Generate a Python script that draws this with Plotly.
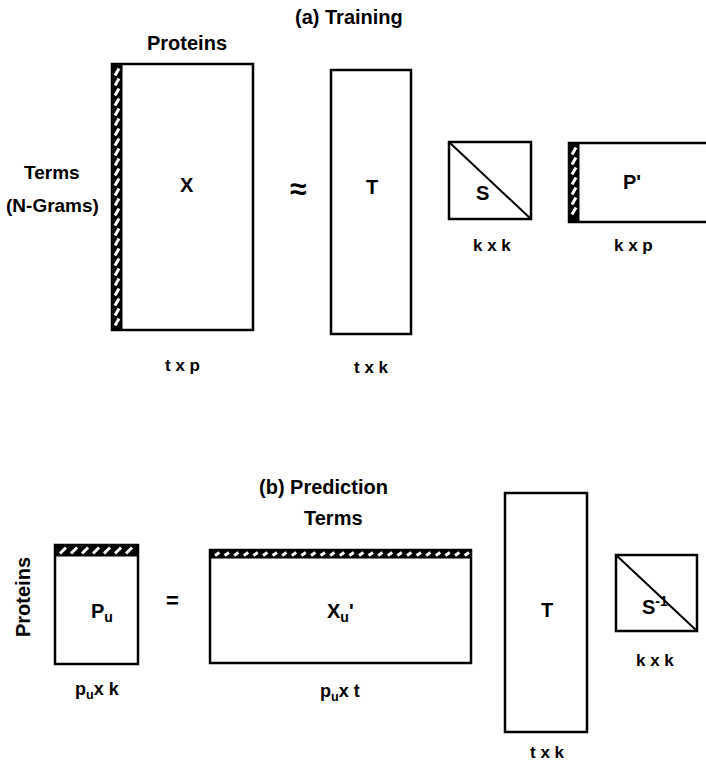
import plotly.graph_objects as go

W, H = 706, 769

# Matrix factorisation diagram: names, dimension captions and panel titles
panel_titles = ["(a) Training", "(b) Prediction"]
matrix_names_a = ["X", "T", "S", "P'"]
matrix_dims_a = ["t x p", "t x k", "k x k", "k x p"]
matrix_names_b = ["P<sub>u</sub>", "X<sub>u</sub>'", "T", "S<sup>-1</sup>"]
matrix_dims_b = ["p<sub>u</sub>x k", "p<sub>u</sub>x t", "t x k", "k x k"]
operators = ["≈", "="]
axis_labels = ["Proteins", "Terms", "(N-Grams)", "Terms", "Proteins"]

# Box geometry in page pixels: (x0, y0, x1, y1, hatched edge, diagonal)
boxes_a = [
    (112, 64, 253, 330, "left", False),
    (331, 70, 411, 334, None, False),
    (449, 142, 531, 219, None, True),
    (569, 143, 712, 222, "left", False),
]
boxes_b = [
    (55, 545, 138, 664, "top", False),
    (210, 550, 471, 663, "top", False),
    (505, 493, 587, 732, None, False),
    (616, 555, 697, 631, None, True),
]

LW = 2.5
shapes = []


def hatch_strip(x0, y0, x1, y1, edge):
    """Black band with white slanted dashes along one edge of a box."""
    if edge == "left":
        sx0, sx1, sy0, sy1 = x0, x0 + 10, y0, y1
    else:
        sx0, sx1, sy0, sy1 = x0, x1, y0, y0 + (11 if (x1 - x0) < 120 else 8)
    shapes.append(dict(type="rect", x0=sx0, x1=sx1, y0=sy0, y1=sy1,
                       fillcolor="black", line=dict(color="black", width=1)))
    if edge == "left":
        y = sy0 + 8
        while y < sy1 - 2:
            shapes.append(dict(type="line", x0=sx0 + 3, y0=y + 3.5, x1=sx1 - 3, y1=y - 3.5,
                               line=dict(color="white", width=3)))
            y += 10
    else:
        step = 11 if (x1 - x0) < 120 else 9.6
        x = sx0 + 5
        hh = sy1 - sy0
        while x < sx1 - 4:
            shapes.append(dict(type="line", x0=x, y0=sy1 - 2.5, x1=x + hh * 0.55, y1=sy0 + 2.5,
                               line=dict(color="white", width=3)))
            x += step


for (x0, y0, x1, y1, hatch, diag) in boxes_a + boxes_b:
    shapes.append(dict(type="rect", x0=x0, x1=x1, y0=y0, y1=y1,
                       fillcolor="white", line=dict(color="black", width=LW)))
    if hatch:
        hatch_strip(x0, y0, x1, y1, hatch)
    if diag:
        shapes.append(dict(type="line", x0=x0, y0=y0, x1=x1, y1=y1,
                           line=dict(color="black", width=2)))

FONT = "Liberation Sans"
annotations = []


def label(x, y, text, size=16, angle=0):
    annotations.append(dict(x=x, y=y, xref="x", yref="y", text="<b>%s</b>" % text,
                            showarrow=False, textangle=angle,
                            font=dict(family=FONT, size=size, color="black"),
                            xanchor="center", yanchor="middle"))


# Panel (a)
label(349, 17, panel_titles[0], 20)
label(187, 43, axis_labels[0], 20)
label(52, 172, axis_labels[1], 19)
label(52, 205, axis_labels[2], 19)
label(187, 185, matrix_names_a[0], 20)
label(298, 188, operators[0], 30)
label(372, 187, matrix_names_a[1], 20)
label(482, 193, matrix_names_a[2], 20)
label(632, 182, matrix_names_a[3], 20)
label(182, 365, matrix_dims_a[0], 17)
label(371, 367, matrix_dims_a[1], 17)
label(492, 245, matrix_dims_a[2], 17)
label(633, 245, matrix_dims_a[3], 17)

# Panel (b)
label(323, 487, panel_titles[1], 20)
label(333, 518, axis_labels[3], 20)
label(23, 597, axis_labels[4], 20, angle=-90)
label(102, 612, matrix_names_b[0], 20)
label(172, 600, operators[1], 22)
label(340, 612, matrix_names_b[1], 20)
label(547, 610, matrix_names_b[2], 20)
label(655, 605, matrix_names_b[3], 20)
label(97, 690, matrix_dims_b[0], 18)
label(340, 692, matrix_dims_b[1], 18)
label(547, 752, matrix_dims_b[2], 17)
label(655, 660, matrix_dims_b[3], 17)

fig = go.Figure()
fig.update_layout(
    width=W, height=H,
    margin=dict(l=0, r=0, t=0, b=0),
    paper_bgcolor="white", plot_bgcolor="white",
    xaxis=dict(range=[0, W], visible=False, fixedrange=True),
    yaxis=dict(range=[H, 0], visible=False, fixedrange=True),
    shapes=shapes, annotations=annotations, showlegend=False,
)
fig.write_html("out.html")
